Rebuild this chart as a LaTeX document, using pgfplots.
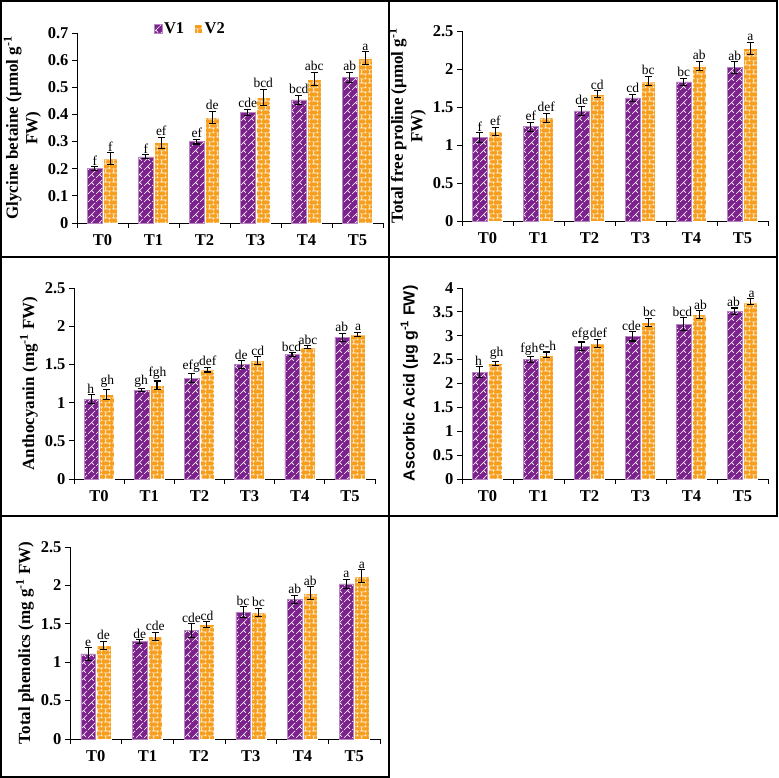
\documentclass[border=0pt]{standalone}
\usepackage{fontspec}
\setmainfont{Liberation Serif}
\newfontfamily\arialfont{Liberation Sans}
\usepackage{pgfplots}
\pgfplotsset{compat=1.18}
\usepackage{pgfplotstable}
\usetikzlibrary{patterns}

\definecolor{vpurple}{RGB}{124,34,140}
\definecolor{vorange}{RGB}{247,158,28}

\pgfdeclarepatternformonly{mybricks}{\pgfpointorigin}{\pgfqpoint{8pt}{9pt}}{\pgfqpoint{8pt}{9pt}}{%
 \pgfsetlinewidth{0.75pt}%
 \pgfpathmoveto{\pgfqpoint{0pt}{2.25pt}}\pgfpathlineto{\pgfqpoint{8pt}{2.25pt}}%
 \pgfpathmoveto{\pgfqpoint{0pt}{6.75pt}}\pgfpathlineto{\pgfqpoint{8pt}{6.75pt}}%
 \pgfpathmoveto{\pgfqpoint{2pt}{2.25pt}}\pgfpathlineto{\pgfqpoint{2pt}{6.75pt}}%
 \pgfpathmoveto{\pgfqpoint{6pt}{6.75pt}}\pgfpathlineto{\pgfqpoint{6pt}{9pt}}%
 \pgfpathmoveto{\pgfqpoint{6pt}{0pt}}\pgfpathlineto{\pgfqpoint{6pt}{2.25pt}}%
 \pgfusepath{stroke}}

\pgfdeclarepatternformonly{myzigzag}{\pgfpointorigin}{\pgfqpoint{8pt}{8pt}}{\pgfqpoint{8pt}{8pt}}{%
 \pgfsetlinewidth{0.7pt}%
 \pgfpathmoveto{\pgfqpoint{0pt}{0pt}}\pgfpathlineto{\pgfqpoint{8pt}{8pt}}%
 \pgfpathmoveto{\pgfqpoint{4pt}{4pt}}\pgfpathlineto{\pgfqpoint{6.5pt}{1.5pt}}%
 \pgfusepath{stroke}}

\tikzset{
 barone/.style={fill=vpurple, draw=vpurple!55!white, line width=0.5pt, postaction={pattern=myzigzag, pattern color=white}},
 bartwo/.style={fill=vorange, draw=white, line width=0.5pt, postaction={pattern=mybricks, pattern color=white}},
}

\pgfplotsset{
 panel/.style={
  scale only axis, ybar, bar width=14.5pt,
  xmin=-0.5, xmax=5.5, ymin=0,
  xtick={-0.5,0.5,1.5,2.5,3.5,4.5,5.5}, x tick label as interval,
  xticklabels={T0,T1,T2,T3,T4,T5},
  xticklabel style={yshift=-3pt},
  axis x line*=bottom, axis y line*=left,
  axis line style={line width=0.8pt, -},
  tick align=outside, major tick length=5pt,
  tick style={line width=0.8pt, black},
  ticklabel style={font=\bfseries\fontsize{16.5}{16.5}\selectfont},
  /pgf/number format/assume math mode=true,
  yticklabel style={/pgf/number format/fixed},
  ylabel style={font=\bfseries\fontsize{17}{19.5}\selectfont, align=center},
  clip=false,
  error bars/error bar style={line width=1.1pt, black},
  error bars/error mark options={rotate=90, mark size=3.5pt, line width=1.1pt, black},
 },
 lab/.style={draw=none, fill=none, forget plot, nodes near coords, point meta=explicit symbolic,
  every node near coord/.append style={font=\fontsize{13.5}{13.5}\selectfont, anchor=south, inner sep=1.2pt, black}},
}

\pgfplotstableread{
x v1 e1 l1 v2 e2 l2
0 0.201 0.007 f 0.237 0.022 f
1 0.244 0.008 f 0.296 0.020 ef
2 0.300 0.009 ef 0.389 0.023 de
3 0.407 0.012 cde 0.463 0.030 bcd
4 0.454 0.016 bcd 0.530 0.025 abc
5 0.536 0.020 ab 0.608 0.023 a
}\dataA
\pgfplotstableread{
x v1 e1 l1 v2 e2 l2
0 1.096 0.068 f 1.175 0.055 ef
1 1.24 0.06 ef 1.36 0.06 def
2 1.45 0.057 de 1.667 0.045 cd
3 1.62 0.045 cd 1.84 0.063 bc
4 1.83 0.045 bc 2.04 0.06 ab
5 2.02 0.077 ab 2.27 0.083 a
}\dataB
\pgfplotstableread{
x v1 e1 l1 v2 e2 l2
0 1.045 0.06 h 1.11 0.065 gh
1 1.16 0.02 gh 1.228 0.055 fgh
2 1.32 0.055 efg 1.43 0.03 def
3 1.50 0.05 de 1.55 0.05 cd
4 1.63 0.025 bcd 1.725 0.02 abc
5 1.85 0.055 ab 1.89 0.03 a
}\dataC
\pgfplotstableread{
x v1 e1 l1 v2 e2 l2
0 2.24 0.11 h 2.42 0.05 gh
1 2.50 0.06 fgh 2.60 0.06 e-h
2 2.78 0.09 efg 2.84 0.09 def
3 2.985 0.095 cde 3.28 0.09 bc
4 3.245 0.13 bcd 3.44 0.085 ab
5 3.51 0.07 ab 3.71 0.065 a
}\dataD
\pgfplotstableread{
x v1 e1 l1 v2 e2 l2
0 1.107 0.08 e 1.22 0.055 de
1 1.27 0.025 de 1.337 0.05 cde
2 1.41 0.09 cde 1.49 0.035 cd
3 1.65 0.07 bc 1.65 0.05 bc
4 1.82 0.05 ab 1.90 0.085 ab
5 2.02 0.06 a 2.12 0.085 a
}\dataE

% #1 table, #2 horizontal spread of the letter labels
\newcommand{\panelplots}[2]{%
 \addplot[barone, bar shift=-7.75pt, error bars/.cd, y dir=both, y explicit] table[x=x, y=v1, y error=e1] {#1};
 \addplot[bartwo, bar shift=7.75pt, error bars/.cd, y dir=both, y explicit] table[x=x, y=v2, y error=e2] {#1};
 \addplot[lab, bar shift=-7.75pt, every node near coord/.append style={xshift=-#2}] table[x=x, y expr=\thisrow{v1}+\thisrow{e1}, meta=l1] {#1};
 \addplot[lab, bar shift=7.75pt, every node near coord/.append style={xshift=#2}] table[x=x, y expr=\thisrow{v2}+\thisrow{e2}, meta=l2] {#1};
}

\begin{document}
\begin{tikzpicture}[x=1pt,y=1pt]
\useasboundingbox (0,0) rectangle (779,778);
\draw[line width=1.2pt] (1,262) rectangle (777,777);
\draw[line width=1.2pt] (389,262) -- (389,777);
\draw[line width=1.2pt] (1,521) -- (777,521);
\draw[line width=1.2pt] (1,1) rectangle (389,262);

\begin{axis}[panel, at={(77pt,555pt)}, anchor=south west, width=306pt, height=190pt,
 ymax=0.7, ytick={0,0.1,0.2,0.3,0.4,0.5,0.6,0.7},
 ylabel={Glycine betaine (µmol g\textsuperscript{-1}\\FW)},
 legend style={at={(rel axis cs:0.37,1.02)}, anchor=center, draw=none, fill=none,
   legend columns=2, font=\bfseries\fontsize{16.5}{16.5}\selectfont,
   /tikz/every even column/.append style={column sep=8pt}},
 legend image code/.code={\path[#1] (0pt,-4.5pt) rectangle (8pt,4.5pt);}]
 \panelplots{\dataA}{0pt}
 \legend{V1,V2}
\end{axis}

\begin{axis}[panel, at={(462pt,557pt)}, anchor=south west, width=306pt, height=190pt,
 ymax=2.5, ytick={0,0.5,1,1.5,2,2.5},
 ylabel={Total free proline (µmol g\textsuperscript{-1}\\FW)}]
 \panelplots{\dataB}{0pt}
\end{axis}

\begin{axis}[panel, at={(74pt,299pt)}, anchor=south west, width=301pt, height=191pt,
 ymax=2.5, ytick={0,0.5,1,1.5,2,2.5},
 ylabel={Anthocyanin (mg\textsuperscript{-1} FW)}]
 \panelplots{\dataC}{0.5pt}
\end{axis}

\begin{axis}[panel, at={(462pt,299pt)}, anchor=south west, width=306pt, height=191pt,
 ymax=4, ytick={0,0.5,1,1.5,2,2.5,3,3.5,4},
 ylabel style={font=\arialfont\bfseries\fontsize{16}{19}\selectfont},
 ylabel shift=8pt,
 ylabel={Ascorbic Acid (µg g\textsuperscript{-1} FW)}]
 \panelplots{\dataD}{1.3pt}
\end{axis}

\begin{axis}[panel, at={(70pt,39pt)}, anchor=south west, width=310pt, height=192pt,
 ymax=2.5, ytick={0,0.5,1,1.5,2,2.5},
 ylabel={Total phenolics (mg g\textsuperscript{-1} FW)}]
 \panelplots{\dataE}{0pt}
\end{axis}
\end{tikzpicture}
\end{document}
